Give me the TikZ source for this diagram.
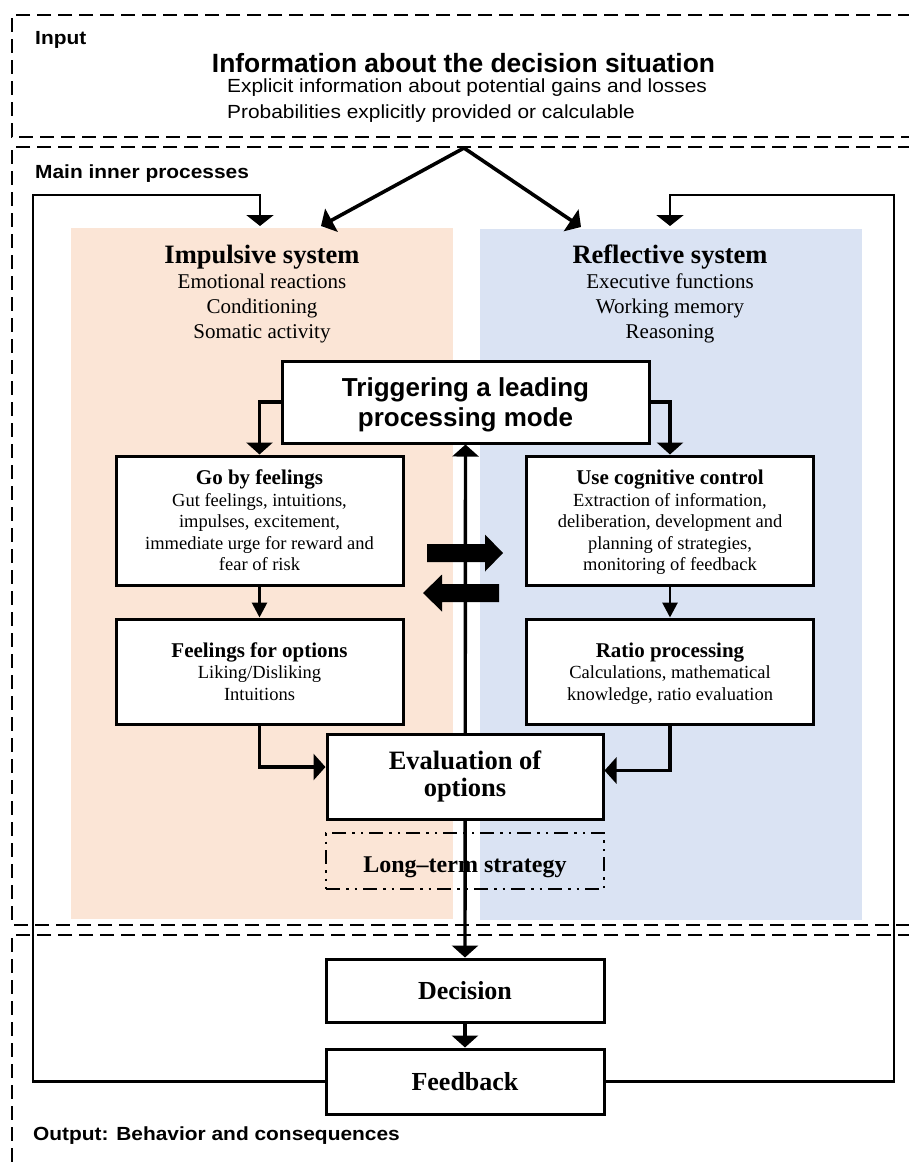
\documentclass[tikz,border=0pt]{standalone}
\usepackage{fontspec}
\usetikzlibrary{arrows.meta}
\newfontfamily\serifrm{Liberation Serif}
\newfontfamily\sansrm{Liberation Sans}
\newfontfamily\sanswide[FakeStretch=1.1]{Liberation Sans}
\definecolor{impfill}{HTML}{FBE5D6}
\definecolor{reffill}{HTML}{DAE3F3}
\newcommand\fsz[2]{\fontsize{#1}{#2}\selectfont}
\newcommand\nodepth[1]{\raisebox{0pt}[\height][0pt]{#1}}

\begin{document}
\begin{tikzpicture}[x=1pt,y=-1pt,
  frame/.style={line width=2.8pt,dash pattern=on 14pt off 7pt},
  box/.style={draw,line width=3pt,fill=white,inner sep=0pt,align=center},
  subbox/.style={box,minimum width=287pt,minimum height=129pt,font=\serifrm\fsz{18.5}{21.5}},
  bigbox/.style={box,minimum width=278pt,font=\serifrm\bfseries\fsz{26}{30}},
  heading/.style={anchor=north,align=center,inner sep=0pt,font=\serifrm\fsz{21}{25}},
  label/.style={anchor=base west,inner sep=0pt,font=\sanswide\fsz{19}{22}},
  conn/.style={line width=3.6pt,-{Triangle[width=26pt,length=12pt]}},
  thinconn/.style={line width=2.8pt,-{Triangle[width=15pt,length=15pt]}},
  feedline/.style={line width=2.5pt,-{Triangle[width=27pt,length=11pt]}},
  spine/.style={line width=3.4pt,{Triangle[width=26pt,length=12pt]}-{Triangle[width=26pt,length=12pt]}},
  blockarrow/.style={fill=black}
]
\useasboundingbox (0,0) rectangle (909,1163);

% coloured panels of the two systems
\node[fill=impfill,minimum width=382pt,minimum height=691pt,inner sep=0pt] (imp) at (262,573.5) {};
\node[fill=reffill,minimum width=382pt,minimum height=691pt,inner sep=0pt] (refl) at (671,574.5) {};

% dashed frames: input, main inner processes, output
\draw[frame] (912,15) -- (12,15) -- (12,137) -- (912,137);
\draw[frame] (912,147) -- (12,147) -- (12,925) -- (912,925);
\draw[frame] (912,935) -- (12,935) -- (12,1175);

% frame labels and input description
\node[label,font=\sanswide\bfseries\fsz{19}{22}] (inlab) at (35,44) {Input};
\node[anchor=base,inner sep=0pt,font=\sansrm\bfseries\fsz{26.4}{30}] (infotitle) at (463.5,72) {Information about the decision situation};
\node[label] (info1) at (227,92) {Explicit information about potential gains and losses};
\node[label] (info2) at (227,118) {Probabilities explicitly provided or calculable};
\node[label,font=\sanswide\bfseries\fsz{19}{22}] (mainlab) at (35,178) {Main inner processes};
\node[label,font=\sanswide\bfseries\fsz{19}{22}] (outlab) at (33,1140) {Output: Behavior and consequences};

% system headings
\node[heading] (impt) at (262,245) {{\fsz{26.5}{25}\bfseries Impulsive system}\\Emotional reactions\\Conditioning\\Somatic activity};
\node[heading] (reft) at (670,245) {{\fsz{26.5}{25}\bfseries Reflective system}\\Executive functions\\Working memory\\Reasoning};

% process boxes
\node[box,minimum width=367pt,minimum height=82pt,font=\sansrm\bfseries\fsz{26}{30.5}] (trig) at (465.5,402) {Triggering a leading\\\nodepth{processing mode}};
\node[subbox] (go) at (259.5,520.5) {{\fsz{21}{22}\bfseries Go by feelings}\\Gut feelings, intuitions,\\impulses, excitement,\\immediate urge for reward and\\fear of risk};
\node[subbox] (ctl) at (670,520.5) {};
\begin{scope}
  % the last text line is cut off at its baseline
  \clip (529,458) rectangle (811,573.5);
  \node[align=center,inner sep=0pt,font=\serifrm\fsz{18.5}{21.5}] (ctltext) at (ctl.center) {{\fsz{21}{22}\bfseries Use cognitive control}\\Extraction of information,\\deliberation, development and\\planning of strategies,\\\nodepth{monitoring of feedback}};
\end{scope}
\node[subbox,minimum height=105pt] (feel) at (259.5,671.5) {{\fsz{21}{22}\bfseries Feelings for options}\\Liking/Disliking\\Intuitions};
\node[subbox,minimum height=105pt] (ratio) at (670,671.5) {{\fsz{21}{22}\bfseries Ratio processing}\\Calculations, mathematical\\\nodepth{knowledge, ratio evaluation}};
\node[draw,line width=2.4pt,dash pattern=on 14pt off 6pt on 2.5pt off 6pt on 2.5pt off 6pt,minimum width=278pt,minimum height=56pt,inner sep=0pt,text height=22pt,text depth=0pt,font=\serifrm\bfseries\fsz{24}{28}] (lts) at (465,861) {Long–term strategy};
\node[bigbox,minimum height=63pt] (dec) at (465,990.5) {Decision};
\node[bigbox,minimum height=65pt] (fb) at (465,1081.5) {Feedback};

% central axis from the decision back up to the mode trigger
\draw[spine] (trig.south) -- (dec.north);

\node[bigbox,minimum width=276pt,minimum height=85pt,font=\serifrm\bfseries\fsz{26.5}{27}] (eval) at (465,776.5) {Evaluation of\\options};

% block arrows between the two modes
\fill[blockarrow,shift={(427,553)}] (0,-9) -- (58,-9) -- (58,-18.5) -- (76,0) -- (58,18.5) -- (58,9) -- (0,9) -- cycle;
\fill[blockarrow,shift={(499,593)}] (0,-9) -- (-57,-9) -- (-57,-18.5) -- (-76,0) -- (-57,18.5) -- (-57,9) -- (0,9) -- cycle;

% connectors
\coordinate (split) at (464,148);
\coordinate (impin) at (321,226);
\coordinate (refin) at (581,227);
\coordinate (fbl) at (33,195);
\coordinate (fbr) at (894,195);
\coordinate (impfb) at (260,226);
\coordinate (reffb) at (670,226);

\draw[conn] (split) -- (impin);
\draw[conn] (split) -- (refin);
\draw[feedline] (fb.west) -| (fbl) -| (impfb);
\draw[feedline] (fb.east) -| (fbr) -| (reffb);
\draw[conn] (trig.west) -| (go.north);
\draw[conn] (trig.east) -| (ctl.north);
\draw[thinconn] (go.south) -- (feel.north);
\draw[thinconn] (ctl.south) -- (ratio.north);
\draw[conn] (feel.south) |- ([yshift=9.5pt]eval.west);
\draw[conn] (ratio.south) |- ([yshift=6pt]eval.east);
\draw[conn] (dec.south) -- (fb.north);
\end{tikzpicture}
\end{document}
